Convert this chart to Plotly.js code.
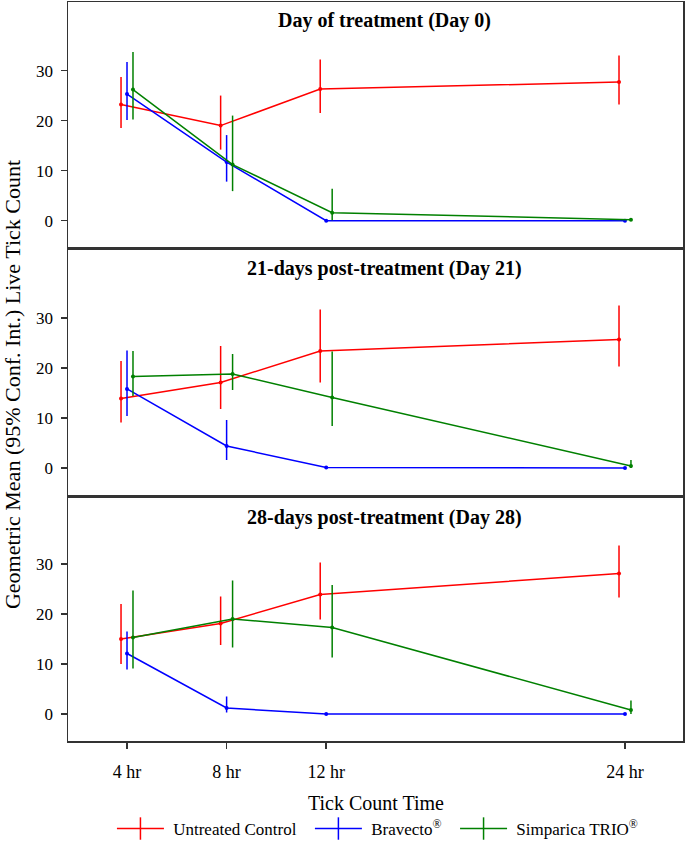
<!DOCTYPE html>
<html>
<head>
<meta charset="utf-8">
<script src="https://cdn.plot.ly/plotly-3.0.1.min.js"></script>
<style>html,body{margin:0;padding:0;background:#fff;}#chart{width:685px;height:841px;}</style>
</head>
<body>
<div id="chart"></div>
<script>
// ---- Data ----
const hours = [4, 8, 12, 24];
const tickLabels = ["4 hr", "8 hr", "12 hr", "24 hr"];
const seriesNames = ["\u00a0Untreated Control\u00a0\u00a0", "\u00a0Bravecto<sup>®</sup>\u00a0\u00a0", "\u00a0Simparica TRIO<sup>®</sup>"];
const panelTitles = ["Day of treatment (Day 0)", "21-days post-treatment (Day 21)", "28-days post-treatment (Day 28)"];

// Day 0
const d0Control      = [23.2, 19.0, 26.3, 27.7];
const d0ControlUpper = [28.7, 25.0, 32.2, 33.0];
const d0ControlLower = [18.5, 14.2, 21.5, 23.2];
const d0Bravecto      = [25.3, 11.7, 0.0, 0.0];
const d0BravectoUpper = [31.7, 17.1, 0.1, 0.1];
const d0BravectoLower = [20.1, 7.8, 0.0, 0.0];
const d0Simparica      = [26.2, 11.2, 1.6, 0.2];
const d0SimparicaUpper = [33.7, 21.0, 6.4, 0.4];
const d0SimparicaLower = [20.2, 5.9, 0.1, 0.0];

// Day 21
const d21Control      = [13.9, 17.1, 23.4, 25.7];
const d21ControlUpper = [21.4, 24.4, 31.7, 32.5];
const d21ControlLower = [9.1, 11.8, 17.1, 20.3];
const d21Bravecto      = [15.8, 4.4, 0.1, 0.0];
const d21BravectoUpper = [23.5, 9.6, 0.2, 0.1];
const d21BravectoLower = [10.4, 1.6, 0.0, 0.0];
const d21Simparica      = [18.3, 18.8, 14.1, 0.4];
const d21SimparicaUpper = [23.4, 22.8, 23.3, 1.6];
const d21SimparicaLower = [14.4, 15.6, 8.4, 0.0];

// Day 28
const d28Control      = [15.0, 18.1, 23.9, 28.1];
const d28ControlUpper = [22.0, 23.5, 30.3, 33.7];
const d28ControlLower = [10.0, 13.8, 18.9, 23.3];
const d28Bravecto      = [12.1, 1.2, 0.0, 0.0];
const d28BravectoUpper = [16.5, 3.5, 0.1, 0.1];
const d28BravectoLower = [8.9, 0.3, 0.0, 0.0];
const d28Simparica      = [15.3, 19.0, 17.3, 0.8];
const d28SimparicaUpper = [24.7, 26.7, 25.8, 2.7];
const d28SimparicaLower = [9.1, 13.3, 11.3, 0.0];

// ---- Styling ----
const colors = ["#ff0000", "#0000ff", "#008000"];
const dodge = [-0.24, 0, 0.24];
const FONT = "Liberation Serif, Times New Roman, serif";
const FRAME = "#333333";

const panels = [
  [[d0Control, d0ControlUpper, d0ControlLower], [d0Bravecto, d0BravectoUpper, d0BravectoLower], [d0Simparica, d0SimparicaUpper, d0SimparicaLower]],
  [[d21Control, d21ControlUpper, d21ControlLower], [d21Bravecto, d21BravectoUpper, d21BravectoLower], [d21Simparica, d21SimparicaUpper, d21SimparicaLower]],
  [[d28Control, d28ControlUpper, d28ControlLower], [d28Bravecto, d28BravectoUpper, d28BravectoLower], [d28Simparica, d28SimparicaUpper, d28SimparicaLower]]
];

const traces = [];
panels.forEach((panel, p) => {
  const suf = p === 0 ? "" : String(p + 1);
  panel.forEach((ser, s) => {
    const [mean, up, lo] = ser;
    traces.push({
      type: "scatter", mode: "lines+markers",
      x: hours.map(h => h + dodge[s]), y: mean,
      xaxis: "x" + suf, yaxis: "y" + suf,
      line: {color: colors[s], width: 1.5},
      marker: {color: colors[s], size: 4},
      error_y: {type: "data", symmetric: false,
        array: up.map((u, i) => u - mean[i]),
        arrayminus: lo.map((l, i) => mean[i] - l),
        width: 0, thickness: 1.5, color: colors[s]},
      showlegend: false, hoverinfo: "skip"
    });
  });
});
// legend entries
seriesNames.forEach((n, s) => {
  traces.push({
    type: "scatter", mode: "lines+markers", x: [null], y: [null], name: n,
    line: {color: colors[s], width: 1.5},
    marker: {symbol: "line-ns", size: 16, color: colors[s], line: {color: colors[s], width: 1.5}},
    showlegend: true, xaxis: "x3", yaxis: "y3"
  });
});

const xRange = [1.63, 26.33];
const domains = [[0.6658, 1], [0.3302, 0.6658], [0, 0.3302]];
const yRanges = [[-5.66, 43.7], [-5.8, 43.8], [-5.4, 43.4]];

const baseX = {
  range: xRange, showline: true, mirror: true, linecolor: FRAME, linewidth: 1.5,
  showgrid: false, zeroline: false, tickvals: hours, ticktext: tickLabels,
  ticks: "outside", ticklen: 6, tickwidth: 1.5, tickcolor: FRAME, ticklabelstandoff: 8,
  tickfont: {family: FONT, size: 18, color: "#000"}
};
const baseY = (p) => ({
  domain: domains[p], range: yRanges[p], showline: true, mirror: true, linecolor: FRAME, linewidth: 1.5,
  showgrid: false, zeroline: false, tickvals: [0, 10, 20, 30],
  ticks: "outside", ticklen: 6, tickwidth: 1.5, tickcolor: FRAME, ticklabelstandoff: 4,
  tickfont: {family: FONT, size: 17, color: "#000"}
});

const layout = {
  width: 685, height: 841,
  margin: {l: 68, r: 2, t: 2, b: 100},
  paper_bgcolor: "#fff", plot_bgcolor: "#fff",
  font: {family: FONT, color: "#000"},
  xaxis: Object.assign({}, baseX, {anchor: "y", showticklabels: false, ticks: ""}),
  xaxis2: Object.assign({}, baseX, {anchor: "y2", matches: "x", showticklabels: false, ticks: ""}),
  xaxis3: Object.assign({}, baseX, {anchor: "y3", matches: "x"}),
  yaxis: Object.assign(baseY(0), {anchor: "x"}),
  yaxis2: Object.assign(baseY(1), {anchor: "x2"}),
  yaxis3: Object.assign(baseY(2), {anchor: "x3"}),
  showlegend: true,
  legend: {orientation: "h", xref: "container", yref: "container", x: 0.551, xanchor: "center", y: 0.0143, yanchor: "middle",
    font: {family: FONT, size: 17, color: "#000"}, itemwidth: 47, tracegroupgap: 0},
  annotations: [
    {text: "<b>" + panelTitles[0] + "</b>", xref: "paper", yref: "paper", x: 0.515, y: 0.9756, xanchor: "center", yanchor: "middle", showarrow: false, font: {family: FONT, size: 20, color: "#000"}},
    {text: "<b>" + panelTitles[1] + "</b>", xref: "paper", yref: "paper", x: 0.515, y: 0.640, xanchor: "center", yanchor: "middle", showarrow: false, font: {family: FONT, size: 20, color: "#000"}},
    {text: "<b>" + panelTitles[2] + "</b>", xref: "paper", yref: "paper", x: 0.515, y: 0.3018, xanchor: "center", yanchor: "middle", showarrow: false, font: {family: FONT, size: 20, color: "#000"}},
    {text: "Geometric Mean (95% Conf. Int.) Live Tick Count", xref: "paper", yref: "paper", x: -0.091, y: 0.4817, xanchor: "center", yanchor: "middle", textangle: -90, showarrow: false, font: {family: FONT, size: 22, color: "#000"}},
    {text: "Tick Count Time", xref: "paper", yref: "paper", x: 0.5008, y: -0.0839, xanchor: "center", yanchor: "middle", showarrow: false, font: {family: FONT, size: 20, color: "#000"}}
  ]
};

Plotly.newPlot("chart", traces, layout, {displayModeBar: false, staticPlot: true});
</script>
</body>
</html>
